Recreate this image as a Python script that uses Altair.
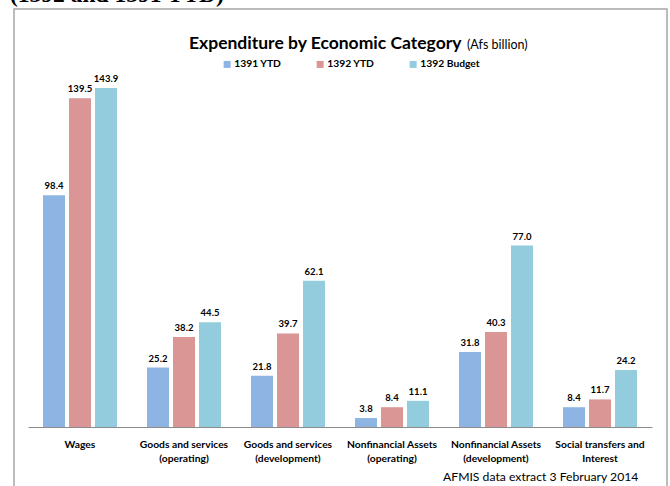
import altair as alt
import pandas as pd

categories = [
    "Wages",
    "Goods and services\n(operating)",
    "Goods and services\n(development)",
    "Nonfinancial Assets\n(operating)",
    "Nonfinancial Assets\n(development)",
    "Social transfers and\nInterest",
]
series = ["1391 YTD", "1392 YTD", "1392  Budget"]
ytd_1391 = [98.4, 25.2, 21.8, 3.8, 31.8, 8.4]
ytd_1392 = [139.5, 38.2, 39.7, 8.4, 40.3, 11.7]
budget_1392 = [143.9, 44.5, 62.1, 11.1, 77.0, 24.2]
colors = ["#8EB4E3", "#D99694", "#93CDDD"]

rows = []
for i, c in enumerate(categories):
    for s, vals in zip(series, [ytd_1391, ytd_1392, budget_1392]):
        rows.append({"category": c, "series": s, "value": vals[i], "label": f"{vals[i]:.1f}"})
df = pd.DataFrame(rows)

FONT = "Lato"
W, H = 624, 377

x = alt.X(
    "category:N",
    sort=categories,
    scale=alt.Scale(paddingInner=0, paddingOuter=0),
    axis=alt.Axis(
        title=None, labelAngle=0, ticks=False, domainColor="#8C8C8C", domainWidth=1,
        labelExpr="split(datum.label, '\\n')", labelFont=FONT, labelFontWeight="bold",
        labelFontSize=10.3, labelColor="black", labelPadding=20, labelLineHeight=14,
        labelBaseline="alphabetic",
    ),
)
xo = alt.XOffset("series:N", sort=series,
                 scale=alt.Scale(paddingInner=0.154, paddingOuter=0.577))
y = alt.Y("value:Q", scale=alt.Scale(domain=[0, 160]), axis=None)

bars = alt.Chart(df).mark_bar().encode(
    x=x, xOffset=xo, y=y,
    color=alt.Color(
        "series:N", sort=series,
        scale=alt.Scale(domain=series, range=colors),
        legend=alt.Legend(
            title=None, orient="none", legendX=194, legendY=9, direction="horizontal",
            symbolType="square", symbolSize=49, symbolStrokeWidth=0,
            labelFont=FONT, labelFontWeight="bold", labelFontSize=10.3, labelColor="black",
            labelOffset=2, columnPadding=33,
        ),
    ),
)

labels = alt.Chart(df).mark_text(
    baseline="alphabetic", dy=-6, font=FONT, fontWeight="bold", fontSize=9.5, color="black"
).encode(x=x, xOffset=xo, y=y, text="label:N")

one = pd.DataFrame({"k": [0]})

title1 = alt.Chart(one).mark_text(
    text="Expenditure by Economic Category", align="left", baseline="alphabetic",
    font=FONT, fontWeight="bold", fontSize=17.5, color="black"
).encode(x=alt.value(161), y=alt.value(-1))

title2 = alt.Chart(one).mark_text(
    text="(Afs billion)", align="left", baseline="alphabetic",
    font=FONT, fontSize=12.5, color="black"
).encode(x=alt.value(439), y=alt.value(-1))

footnote = alt.Chart(one).mark_text(
    text="AFMIS data extract 3 February 2014", align="left", baseline="alphabetic",
    font=FONT, fontSize=12.2, color="black"
).encode(x=alt.value(415), y=alt.value(431))

header = alt.Chart(one).mark_text(
    text="(1392 and 1391 YTD)", align="left", baseline="alphabetic",
    font="Liberation Serif", fontWeight="bold", fontSize=23.5, color="black"
).encode(x=alt.value(-18), y=alt.value(-48.5))

frame = alt.Chart(one).mark_rect(
    fill="white", fillOpacity=0, stroke="#A6A6A6", strokeWidth=1.5
).encode(x=alt.value(-14), x2=alt.value(639), y=alt.value(-41), y2=alt.value(460))

chart = alt.layer(frame, bars, labels, title1, title2, footnote, header).properties(
    width=W, height=H,
    autosize=alt.AutoSizeParams(type="none"),
    padding={"left": 28, "top": 50, "right": 18, "bottom": 59},
    background="white",
).configure_view(stroke=None)

chart.save("out.html", embed_options={"renderer": "svg", "actions": False})
